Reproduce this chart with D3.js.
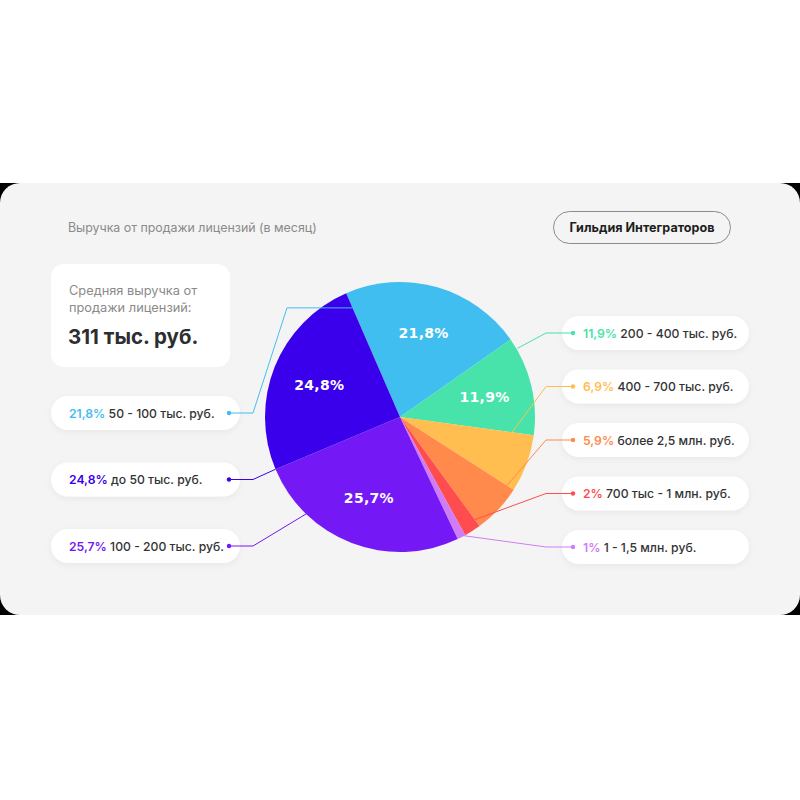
<!DOCTYPE html>
<html><head><meta charset="utf-8">
<script src="https://cdn.jsdelivr.net/npm/d3@7/dist/d3.min.js"></script>
<style>
html,body{margin:0;padding:0;background:#fff;}
svg{display:block;}
</style></head>
<body>
<svg id="chart" width="800" height="800"></svg>
<script>
// ---- data ----
const categories = ["50 - 100 тыс. руб.", "200 - 400 тыс. руб.", "400 - 700 тыс. руб.", "более 2,5 млн. руб.", "700 тыс - 1 млн. руб.", "1 - 1,5 млн. руб.", "100 - 200 тыс. руб.", "до 50 тыс. руб."];
const values = [21.8, 11.9, 6.9, 5.9, 2, 1, 25.7, 24.8];
const valueLabels = ["21,8%", "11,9%", "6,9%", "5,9%", "2%", "1%", "25,7%", "24,8%"];
const colors = ["#41BEF0", "#47E3AB", "#FFBE4F", "#FF8A4C", "#FF4D4F", "#D07CF6", "#7418F5", "#3A00EB"];
const insideLabelShown = [true, true, false, false, false, false, true, true];
const titleText = "Выручка от продажи лицензий (в месяц)";
const brandText = "Гильдия Интеграторов";
const avgLines = ["Средняя выручка от", "продажи лицензий:"];
const avgValue = "311 тыс. руб.";
// legend order
const leftOrder = [0, 7, 6];
const rightOrder = [1, 2, 3, 4, 5];

const svg = d3.select("#chart");
const FONT = "Inter, 'Noto Sans', sans-serif";

// shadow filter
const defs = svg.append("defs");
const f = defs.append("filter").attr("id", "sh").attr("x", "-20%").attr("y", "-40%").attr("width", "140%").attr("height", "180%");
f.append("feDropShadow").attr("dx", 0).attr("dy", 2).attr("stdDeviation", 3).attr("flood-color", "#000").attr("flood-opacity", 0.05);

// card
svg.append("rect").attr("x", 0).attr("y", 183).attr("width", 800).attr("height", 432).attr("fill", "#000");
svg.append("rect").attr("x", 0).attr("y", 183).attr("width", 800).attr("height", 432).attr("rx", 20).attr("fill", "#F4F4F4");

// title
svg.append("text").attr("x", 68).attr("y", 232).attr("font-family", FONT).attr("font-size", 12.4)
  .attr("fill", "#8A8A8A").text(titleText);

// brand pill
svg.append("rect").attr("x", 553.5).attr("y", 211.5).attr("width", 177).attr("height", 32).attr("rx", 16)
  .attr("fill", "none").attr("stroke", "#8A8A8A").attr("stroke-width", 1);
svg.append("text").attr("x", 642).attr("y", 231.5).attr("text-anchor", "middle").attr("font-family", FONT)
  .attr("font-size", 12.6).attr("font-weight", 700).attr("fill", "#1E1E1E").text(brandText);

// avg box
svg.append("rect").attr("x", 51).attr("y", 264).attr("width", 179).attr("height", 103).attr("rx", 13).attr("fill", "#fff");
avgLines.forEach((t, i) => {
  svg.append("text").attr("x", 69).attr("y", 295 + i * 17).attr("font-family", FONT).attr("font-size", 12.8)
    .attr("fill", "#8A8A8A").text(t);
});
svg.append("text").attr("x", 68).attr("y", 344).attr("font-family", FONT).attr("font-size", 20.5)
  .attr("font-weight", 700).attr("fill", "#2E2E2E").text(avgValue);

// pie
const cx = 400, cy = 417, R = 135;
const pie = d3.pie().sort(null).value(d => d).startAngle(-23.5 * Math.PI / 180).endAngle(-23.5 * Math.PI / 180 + 2 * Math.PI);
const arcs = pie(values);
const arc = d3.arc().innerRadius(0).outerRadius(R);
const g = svg.append("g").attr("transform", `translate(${cx},${cy})`);
g.selectAll("path").data(arcs).join("path").attr("d", arc).attr("fill", (d, i) => colors[i]);

const labelArc = d3.arc().innerRadius(87).outerRadius(87);
g.selectAll("text.in").data(arcs.filter((d, i) => insideLabelShown[i])).join("text")
  .attr("class", "in")
  .attr("transform", d => `translate(${labelArc.centroid(d)})`)
  .attr("text-anchor", "middle").attr("dy", "0.36em")
  .attr("font-family", "'DejaVu Sans', sans-serif").attr("font-weight", 700).attr("font-size", 14)
  .attr("letter-spacing", 0.3)
  .attr("fill", "#fff").text(d => valueLabels[d.index]);

// anchors on pie for connectors: fraction into slice, radius
const anchorSpec = [[0, 119], [0.11, 136], [0, 113], [0, 127], [0, 127], [0.3, 134], [0.75, 135], [0, 135]];
function anchor(i) {
  const a = arcs[i];
  const ang = a.startAngle + anchorSpec[i][0] * (a.endAngle - a.startAngle);
  const r = anchorSpec[i][1];
  return [cx + r * Math.sin(ang), cy - r * Math.cos(ang)];
}

const pillH = 34;
const yLeft = d3.scalePoint().domain(leftOrder).range([413, 546]);
const yRight = d3.scalePoint().domain(rightOrder).range([333, 547]);

function drawPill(x, w, yc) {
  svg.append("rect").attr("x", x).attr("y", yc - pillH / 2).attr("width", w).attr("height", pillH)
    .attr("rx", pillH / 2).attr("fill", "#fff").attr("filter", "url(#sh)");
}

function pillText(x, yc, i) {
  const t = svg.append("text").attr("x", x).attr("y", yc + 4.5).attr("font-family", FONT).attr("font-size", 12.2).attr("font-weight", 500);
  t.append("tspan").attr("fill", colors[i]).attr("font-weight", 600).text(valueLabels[i]);
  t.append("tspan").attr("fill", "#333").text(" " + categories[i]);
}

leftOrder.forEach(i => { const yc = yLeft(i); drawPill(51, 189, yc); pillText(69, yc, i); });
rightOrder.forEach(i => { const yc = yRight(i); drawPill(562, 187, yc); pillText(583, yc, i); });

// connectors
const line = d3.line();
leftOrder.forEach(i => {
  const yc = yLeft(i);
  const a = anchor(i);
  const pts = (i === 0) ? [[229, yc], [253, yc], [287, a[1]], a] : [[229, yc], [253, yc], a];
  svg.append("path").attr("d", line(pts)).attr("fill", "none").attr("stroke", colors[i]).attr("stroke-width", 1);
  svg.append("circle").attr("cx", 229).attr("cy", yc).attr("r", 2.2).attr("fill", colors[i]);
});
rightOrder.forEach(i => {
  const yc = yRight(i);
  const a = anchor(i);
  const pts = [[573, yc], [546, yc], a];
  svg.append("path").attr("d", line(pts)).attr("fill", "none").attr("stroke", colors[i]).attr("stroke-width", 1);
  svg.append("circle").attr("cx", 573).attr("cy", yc).attr("r", 2.2).attr("fill", colors[i]);
});
</script>
</body></html>
